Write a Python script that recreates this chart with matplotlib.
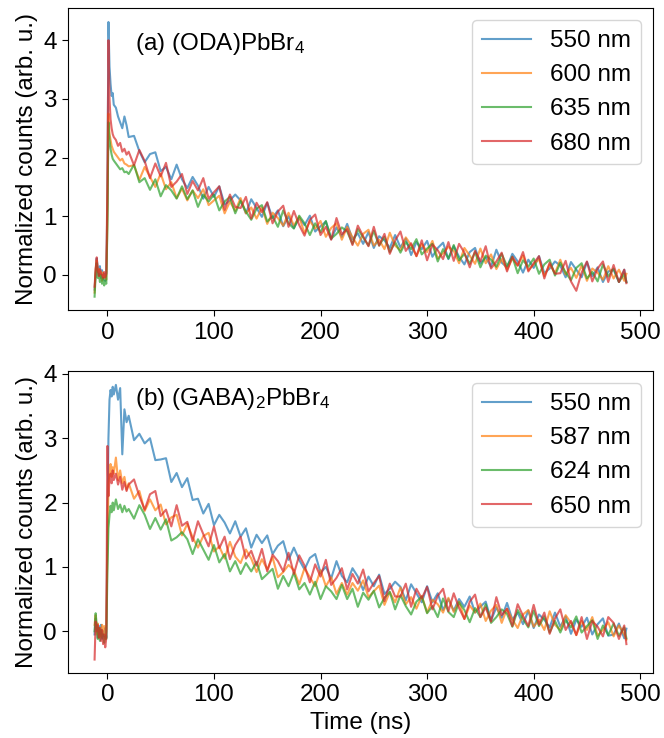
import numpy as np
import matplotlib
matplotlib.use('Agg')
import matplotlib.pyplot as plt

plt.rcParams['font.family'] = ['Liberation Sans', 'DejaVu Sans']
plt.rcParams['font.size'] = 17.5
plt.rcParams['mathtext.default'] = 'regular'

# time grid (ns): fine steps around the excitation pulse, then 5 ns steps
t_early = [-12, -11, -10, -9, -8, -7, -6, -5, -4, -3, -2, -1,
           0, 1, 2, 3, 4, 5, 6, 8, 10, 12, 14, 16, 18, 20]
t = np.concatenate([t_early, np.arange(25, 486, 5), [487]])

# ---- (a) (ODA)PbBr4 ----
labels_a = ['550 nm', '600 nm', '635 nm', '680 nm']

oda_550 = [-0.25, 0.05, 0.28, 0.12, 0.0, 0.15, -0.05, 0.08, -0.08, 0.02, -0.1, 0.05,
           1.2, 4.31, 3.55, 3.25, 3.05, 3.1, 2.9, 2.85, 2.7, 2.6, 2.5, 2.7, 2.55, 2.35,
           2.37, 2.11, 1.92, 2.06, 2.09, 1.77, 1.84, 1.63, 1.88, 1.63,
           1.48, 1.67, 1.52, 1.30, 1.50, 1.33, 1.51, 1.20, 1.27, 1.37,
           1.27, 1.05, 1.29, 1.14, 0.99, 1.23, 0.97, 1.10, 0.83, 1.00,
           0.80, 0.97, 0.85, 1.01, 0.74, 0.83, 0.91, 0.61, 0.81, 0.65,
           0.87, 0.61, 0.71, 0.53, 0.73, 0.46, 0.66, 0.59, 0.46, 0.68,
           0.47, 0.62, 0.34, 0.56, 0.44, 0.58, 0.31, 0.46, 0.55, 0.27,
           0.49, 0.31, 0.18, 0.39, 0.46, 0.20, 0.30, 0.14, 0.43, 0.21,
           0.13, 0.36, 0.23, 0.04, 0.26, 0.12, 0.32, 0.03, 0.11, 0.23,
           0.16, -0.04, 0.22, 0.09, -0.04, 0.22, -0.02, 0.13, -0.12, 0.06,
           0.09, -0.12, 0.09, -0.12]

oda_600 = [-0.3, 0.1, 0.25, 0.05, 0.1, -0.02, 0.06, -0.1, 0.04, -0.06, 0.0, -0.08,
           0.9, 2.75, 2.4, 2.3, 2.2, 2.15, 2.1, 2.05, 2.0, 1.95, 1.98, 1.9, 1.88, 1.85,
           1.87, 1.62, 1.84, 1.67, 1.50, 1.73, 1.46, 1.58, 1.31, 1.47,
           1.27, 1.44, 1.31, 1.46, 1.19, 1.27, 1.35, 1.05, 1.25, 1.09,
           1.31, 1.05, 1.15, 0.96, 1.15, 0.87, 1.06, 0.97, 0.84, 1.06,
           0.84, 0.99, 0.71, 0.92, 0.79, 0.92, 0.65, 0.80, 0.88, 0.60,
           0.82, 0.64, 0.50, 0.70, 0.77, 0.50, 0.60, 0.44, 0.72, 0.50,
           0.42, 0.64, 0.51, 0.32, 0.53, 0.39, 0.58, 0.28, 0.37, 0.48,
           0.41, 0.20, 0.46, 0.33, 0.19, 0.45, 0.20, 0.35, 0.10, 0.27,
           0.09, 0.28, 0.16, 0.33, 0.08, 0.18, 0.27, -0.02, 0.18, 0.03,
           0.26, 0.01, 0.12, -0.05, 0.16, -0.10, 0.11, 0.04, -0.08, 0.15,
           -0.06, 0.09, -0.10, 0.02]

oda_635 = [-0.37, 0.0, 0.2, -0.05, 0.02, -0.12, 0.0, -0.15, -0.05, -0.18, -0.1, -0.15,
           0.8, 2.6, 2.3, 2.15, 2.05, 1.98, 1.95, 1.9, 1.85, 1.8, 1.82, 1.75, 1.76, 1.72,
           1.88, 1.58, 1.65, 1.45, 1.63, 1.34, 1.53, 1.44, 1.30, 1.51,
           1.29, 1.44, 1.16, 1.37, 1.25, 1.37, 1.10, 1.25, 1.33, 1.05,
           1.26, 1.08, 0.94, 1.13, 1.19, 0.91, 1.00, 0.82, 1.10, 0.88,
           0.79, 1.01, 0.88, 0.68, 0.88, 0.73, 0.92, 0.62, 0.70, 0.81,
           0.74, 0.53, 0.78, 0.64, 0.50, 0.75, 0.50, 0.65, 0.39, 0.56,
           0.38, 0.56, 0.44, 0.61, 0.35, 0.45, 0.53, 0.23, 0.44, 0.28,
           0.51, 0.25, 0.36, 0.19, 0.39, 0.13, 0.33, 0.26, 0.14, 0.36,
           0.15, 0.31, 0.03, 0.25, 0.14, 0.28, 0.02, 0.18, 0.26, -0.01,
           0.21, 0.04, -0.09, 0.12, 0.20, -0.06, 0.05, -0.11, 0.18, -0.03,
           0.11, -0.12, 0.02, -0.12]

oda_680 = [-0.2, 0.1, 0.3, 0.08, -0.02, 0.1, 0.02, 0.0, -0.05, 0.05, -0.04, 0.02,
           1.5, 4.0, 3.0, 2.65, 2.5, 2.4, 2.35, 2.3, 2.2, 2.25, 2.1, 2.15, 2.05, 2.1,
           1.87, 2.13, 1.94, 1.65, 1.90, 1.68, 1.91, 1.50, 1.59, 1.72,
           1.38, 1.60, 1.44, 1.65, 1.30, 1.41, 1.51, 1.11, 1.37, 1.16,
           1.14, 1.33, 0.96, 1.23, 1.07, 1.24, 0.88, 1.08, 1.18, 0.82,
           1.09, 0.85, 0.67, 0.94, 1.03, 0.68, 0.82, 0.60, 0.97, 0.69,
           0.78, 0.51, 0.84, 0.66, 0.49, 0.82, 0.50, 0.70, 0.36, 0.59,
           0.74, 0.41, 0.54, 0.32, 0.59, 0.25, 0.52, 0.42, 0.27, 0.56,
           0.24, 0.53, 0.38, 0.13, 0.41, 0.23, 0.49, 0.11, 0.23, 0.38,
           0.06, 0.31, 0.16, 0.39, 0.06, 0.20, 0.32, -0.06, 0.21, 0.02,
           0.03, 0.24, -0.11, -0.27, 0.04, 0.23, -0.11, 0.11, 0.23, -0.12,
           0.17, -0.12, 0.09, -0.14]

# ---- (b) (GABA)2PbBr4 ----
labels_b = ['550 nm', '587 nm', '624 nm', '650 nm']

gaba_550 = [-0.05, 0.2, 0.05, -0.1, 0.08, -0.05, 0.1, -0.12, 0.0, -0.08, 0.05, -0.1,
            1.6, 3.0, 3.6, 3.75, 3.65, 3.8, 3.68, 3.83, 3.6, 3.78, 2.75, 3.45, 3.25, 3.35,
            2.97, 3.07, 2.92, 3.00, 2.66, 2.67, 2.69, 2.32, 2.46, 2.24,
            2.38, 2.04, 2.06, 1.83, 1.98, 1.65, 1.81, 1.69, 1.52, 1.71,
            1.47, 1.60, 1.30, 1.50, 1.37, 1.49, 1.20, 1.33, 1.40, 1.11,
            1.30, 1.11, 0.96, 1.14, 1.20, 0.91, 1.00, 0.82, 1.09, 0.86,
            0.76, 0.98, 0.85, 0.64, 0.85, 0.70, 0.88, 0.58, 0.66, 0.77,
            0.69, 0.48, 0.73, 0.59, 0.45, 0.70, 0.45, 0.59, 0.33, 0.50,
            0.32, 0.50, 0.38, 0.54, 0.29, 0.38, 0.46, 0.17, 0.37, 0.21,
            0.44, 0.18, 0.29, 0.11, 0.32, 0.05, 0.26, 0.18, 0.06, 0.29,
            0.07, 0.23, -0.04, 0.18, 0.07, 0.21, -0.05, 0.11, 0.20, -0.07,
            -0.05, 0.12, -0.11, 0.04]

gaba_587 = [0.1, 0.25, -0.05, 0.12, -0.1, 0.05, -0.08, 0.1, -0.05, 0.08, -0.12, 0.0,
            1.2, 2.3, 2.45, 2.6, 2.4, 2.55, 2.45, 2.7, 2.35, 2.5, 2.3, 2.4, 2.2, 2.3,
            2.06, 2.18, 1.87, 2.05, 1.88, 1.97, 1.66, 1.77, 1.81, 1.49,
            1.67, 1.46, 1.30, 1.48, 1.53, 1.24, 1.32, 1.13, 1.39, 1.16,
            1.06, 1.27, 1.13, 0.92, 1.12, 0.96, 1.15, 0.84, 0.92, 1.03,
            0.95, 0.73, 0.98, 0.84, 0.70, 0.95, 0.70, 0.84, 0.58, 0.75,
            0.57, 0.75, 0.63, 0.79, 0.53, 0.62, 0.71, 0.41, 0.61, 0.45,
            0.68, 0.42, 0.53, 0.35, 0.55, 0.29, 0.49, 0.42, 0.29, 0.52,
            0.30, 0.46, 0.19, 0.40, 0.29, 0.43, 0.16, 0.32, 0.41, 0.13,
            0.35, 0.18, 0.05, 0.26, 0.33, 0.07, 0.18, 0.02, 0.31, 0.10,
            0.02, 0.25, 0.13, -0.06, 0.16, 0.02, 0.22, -0.07, 0.02, 0.14,
            -0.08, 0.09, -0.05, -0.13]

gaba_624 = [0.0, 0.28, 0.1, -0.12, 0.05, -0.15, 0.02, -0.1, -0.05, -0.18, -0.08, -0.12,
            0.9, 1.6, 1.8, 1.95, 1.85, 2.0, 1.88, 2.05, 1.9, 1.97, 1.85, 1.95, 1.86, 1.9,
            1.75, 1.96, 1.81, 1.59, 1.76, 1.58, 1.74, 1.41, 1.46, 1.54,
            1.43, 1.20, 1.43, 1.27, 1.11, 1.34, 1.07, 1.20, 0.93, 1.09,
            0.89, 1.06, 0.93, 1.08, 0.81, 0.89, 0.97, 0.66, 0.86, 0.70,
            0.91, 0.65, 0.75, 0.57, 0.77, 0.50, 0.70, 0.62, 0.50, 0.72,
            0.50, 0.66, 0.38, 0.60, 0.49, 0.63, 0.37, 0.52, 0.61, 0.34,
            0.56, 0.39, 0.26, 0.46, 0.54, 0.28, 0.39, 0.22, 0.51, 0.30,
            0.22, 0.45, 0.33, 0.14, 0.36, 0.22, 0.42, 0.13, 0.22, 0.34,
            0.27, 0.07, 0.33, 0.19, 0.06, 0.32, 0.08, 0.23, -0.02, 0.16,
            -0.02, 0.17, 0.06, 0.23, -0.02, 0.08, 0.17, -0.12, 0.09, -0.06,
            0.12, -0.07, 0.06, -0.11]

gaba_650 = [-0.44, 0.15, 0.0, 0.1, -0.1, 0.05, -0.15, 0.02, -0.2, -0.05, -0.25, -0.1,
            2.88, 2.1, 2.35, 2.45, 2.3, 2.5, 2.35, 2.45, 2.28, 2.4, 2.2, 2.32, 2.18, 2.28,
            2.36, 2.10, 1.89, 2.13, 2.18, 1.79, 1.89, 1.63, 1.96, 1.64,
            1.70, 1.40, 1.71, 1.51, 1.32, 1.63, 1.29, 1.47, 1.12, 1.34,
            1.47, 1.13, 1.25, 1.02, 1.28, 0.93, 1.19, 1.09, 0.93, 1.22,
            0.89, 1.18, 1.02, 0.76, 1.04, 0.85, 1.11, 0.72, 0.83, 0.98,
            0.65, 0.89, 0.74, 0.96, 0.62, 0.75, 0.86, 0.47, 0.74, 0.54,
            0.54, 0.74, 0.38, 0.66, 0.51, 0.69, 0.34, 0.55, 0.66, 0.31,
            0.59, 0.36, 0.19, 0.46, 0.57, 0.22, 0.37, 0.15, 0.53, 0.25,
            0.35, 0.08, 0.42, 0.24, 0.08, 0.41, 0.10, 0.29, -0.04, 0.20,
            0.34, 0.02, 0.16, -0.06, 0.22, -0.12, 0.16, 0.07, -0.08, 0.22,
            0.13, -0.12, 0.09, -0.20]

fig, (ax1, ax2) = plt.subplots(2, 1, figsize=(6.64, 7.38), dpi=100)
fig.subplots_adjust(left=0.1024, right=0.9834, top=0.9888, bottom=0.0877, hspace=0.201)

for y, lab in zip([oda_550, oda_600, oda_635, oda_680], labels_a):
    ax1.plot(t, y, alpha=0.7, label=lab)
for y, lab in zip([gaba_550, gaba_587, gaba_624, gaba_650], labels_b):
    ax2.plot(t, y, alpha=0.7, label=lab)

ax1.text(0.115, 0.925, '(a) (ODA)PbBr$_4$', transform=ax1.transAxes, va='top')
ax2.text(0.115, 0.95, '(b) (GABA)$_2$PbBr$_4$', transform=ax2.transAxes, va='top')

for ax in (ax1, ax2):
    ax.legend(loc='upper right')
    ax.set_ylabel('Normalized counts (arb. u.)')
    ax.set_xticks([0, 100, 200, 300, 400, 500])
    ax.tick_params(length=4.5)
ax2.set_xlabel('Time (ns)')

fig.savefig('out.png', dpi=100)
